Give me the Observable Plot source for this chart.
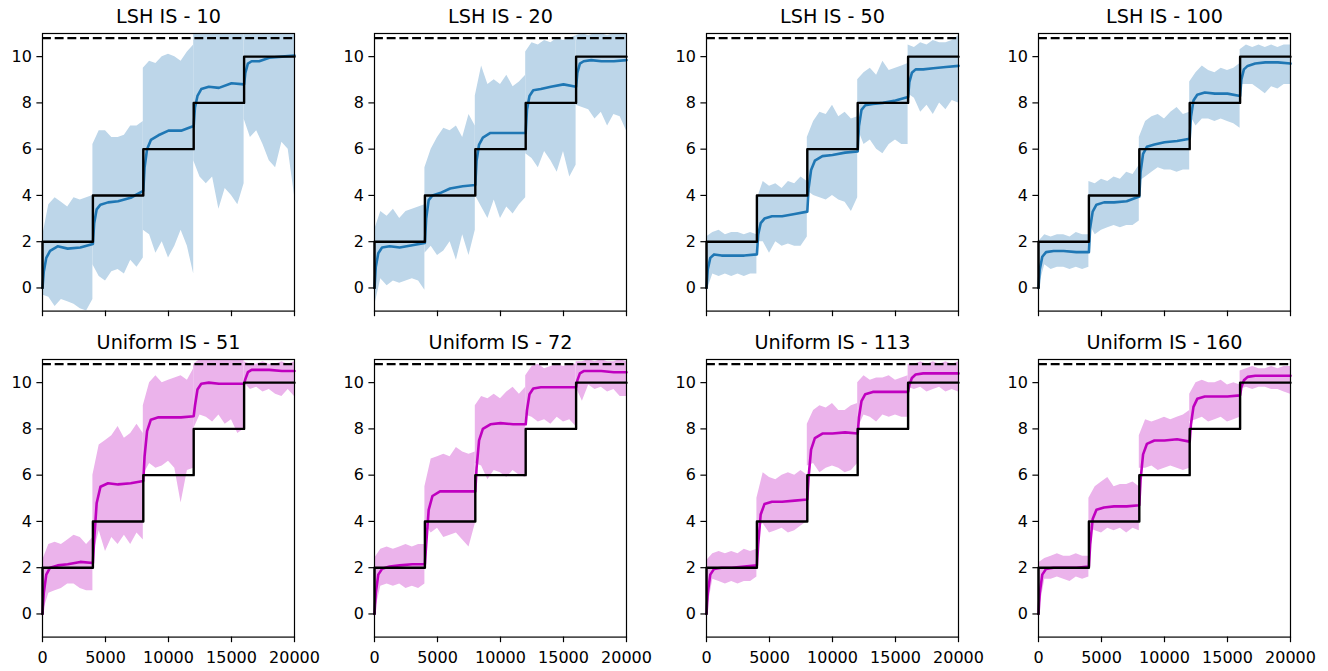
<!DOCTYPE html>
<html>
<head>
<meta charset="utf-8">
<script src="https://cdn.jsdelivr.net/npm/d3@7"></script>
<script src="https://cdn.jsdelivr.net/npm/@observablehq/plot@0.6"></script>
<style>
  html, body { margin: 0; padding: 0; background: #ffffff; }
  #fig { position: relative; width: 1328px; height: 671px; overflow: hidden; font-family: "DejaVu Sans", sans-serif; }
  #fig .panel { position: absolute; }
  #fig svg { overflow: visible; }
</style>
</head>
<body>
<div id="fig"></div>
<script>
// ---------- data ----------
const titles = ["LSH IS - 10", "LSH IS - 20", "LSH IS - 50", "LSH IS - 100",
                "Uniform IS - 51", "Uniform IS - 72", "Uniform IS - 113", "Uniform IS - 160"];
const xTicks = [0, 5000, 10000, 15000, 20000];
const yTicks = [0, 2, 4, 6, 8, 10];
const dashLevel = 10.8;
const stepX = [0, 0, 4000, 8000, 12000, 16000, 20000];
const stepY = [0, 2, 4, 6, 8, 10, 10];
const segStarts = [0, 4000, 8000, 12000, 16000];
const bandOffsets = [0, 500, 1000, 1500, 2000, 2500, 3000, 3500, 4000];
const meanX = [0,
  100, 300, 600, 1200, 2000, 3000, 4000,
  4100, 4300, 4600, 5200, 6000, 7000, 8000,
  8100, 8300, 8600, 9200, 10000, 11000, 12000,
  12100, 12300, 12600, 13200, 14000, 15000, 16000,
  16100, 16300, 16600, 17200, 18000, 19000, 20000];

// LSH IS - 10
const lsh10Lo = [-0.3, -0.4, -0.8, -0.5, -0.6, -0.7, -0.9, -1.0, -0.5,
                 1.0, 0.5, 0.3, 0.7, 0.8, 0.6, 1.2, 0.9, 1.3,
                 2.5, 2.3, 1.5, 2.0, 1.3, 1.8, 2.5, 1.8, 0.6,
                 5.5, 4.8, 4.5, 4.8, 3.4, 4.3, 4.0, 3.6, 4.5,
                 7.3, 6.5, 6.8, 6.2, 5.5, 5.2, 6.3, 6.0, 4.0];
const lsh10Hi = [2.2, 3.6, 3.9, 3.7, 3.5, 3.9, 3.8, 3.9, 4.0,
                 6.2, 6.8, 6.8, 6.5, 6.5, 6.6, 7.0, 7.0, 7.2,
                 9.5, 9.8, 9.7, 10.0, 10.1, 10.0, 9.8, 10.2, 10.5,
                 11.0, 11.0, 11.0, 11.0, 11.0, 11.0, 11.0, 11.0, 11.0,
                 11.0, 11.0, 11.0, 11.0, 11.0, 11.0, 11.0, 11.0, 11.0];
const lsh10Mean = [0,
  0.7, 1.3, 1.6, 1.8, 1.7, 1.75, 1.9,
  2.8, 3.4, 3.6, 3.7, 3.75, 3.9, 4.2,
  5.2, 6.0, 6.4, 6.6, 6.8, 6.8, 7.0,
  7.8, 8.3, 8.6, 8.7, 8.65, 8.85, 8.8,
  9.3, 9.7, 9.8, 9.8, 9.95, 10.0, 10.05];

// LSH IS - 20
const lsh20Lo = [-0.8, 0.4, 0.1, 0.3, 0.2, 0.3, 0.4, 0.3, -0.1,
                 1.5, 1.8, 1.4, 1.6, 2.0, 1.2, 2.3, 1.4, 2.5,
                 4.0, 3.5, 3.0, 3.8, 3.0, 3.5, 3.2, 3.6, 3.9,
                 5.8, 5.6, 5.2, 5.9, 5.5, 5.0, 5.9, 4.8, 5.3,
                 7.9, 7.8, 7.7, 7.3, 7.6, 7.0, 7.5, 7.4, 6.8];
const lsh20Hi = [2.5, 3.3, 3.1, 3.4, 3.0, 3.3, 3.4, 3.5, 3.6,
                 5.2, 6.0, 6.5, 6.9, 6.8, 7.0, 6.5, 7.5, 7.0,
                 8.3, 9.6, 8.8, 9.0, 8.8, 9.2, 8.7, 8.9, 9.2,
                 10.2, 10.6, 10.5, 10.7, 10.6, 10.8, 10.7, 10.8, 10.9,
                 10.9, 11.0, 10.9, 11.0, 11.0, 10.9, 11.0, 11.0, 11.0];
const lsh20Mean = [0,
  0.9, 1.5, 1.75, 1.8, 1.75, 1.85, 1.95,
  3.0, 3.8, 4.0, 4.1, 4.3, 4.4, 4.45,
  5.5, 6.2, 6.5, 6.7, 6.7, 6.7, 6.7,
  7.7, 8.3, 8.55, 8.6, 8.7, 8.8, 8.7,
  9.3, 9.7, 9.8, 9.85, 9.8, 9.8, 9.85];

// LSH IS - 50
const lsh50Lo = [-0.2, 0.6, 0.5, 0.6, 0.5, 0.6, 0.5, 0.6, 0.6,
                 2.0, 2.0, 1.5, 2.0, 1.8, 1.9, 1.8, 1.8, 2.2,
                 4.2, 4.0, 3.9, 3.8, 4.0, 3.8, 3.7, 3.3, 3.9,
                 6.9, 6.2, 6.4, 6.0, 5.8, 6.2, 6.4, 6.2, 6.2,
                 8.4, 8.2, 7.6, 7.9, 7.5, 8.0, 7.7, 8.1, 8.0];
const lsh50Hi = [2.2, 2.4, 2.5, 2.3, 2.4, 2.4, 2.3, 2.4, 2.3,
                 3.8, 4.6, 4.4, 4.5, 4.3, 4.6, 4.5, 4.8, 4.6,
                 6.5, 7.2, 7.6, 7.5, 7.9, 7.4, 7.6, 7.3, 7.4,
                 9.0, 9.3, 9.5, 9.2, 9.8, 9.4, 9.5, 9.6, 9.7,
                 10.5, 10.4, 10.6, 10.5, 10.7, 10.6, 10.6, 10.7, 10.9];
const lsh50Mean = [0,
  0.8, 1.3, 1.45, 1.4, 1.4, 1.4, 1.45,
  2.3, 2.8, 3.0, 3.1, 3.1, 3.2, 3.3,
  4.3, 5.1, 5.5, 5.7, 5.75, 5.85, 5.9,
  7.0, 7.7, 7.9, 7.95, 8.0, 8.1, 8.25,
  8.9, 9.3, 9.45, 9.45, 9.5, 9.55, 9.6];

// LSH IS - 100
const lsh100Lo = [0.0, 1.0, 0.8, 0.9, 0.9, 0.8, 0.9, 0.8, 0.9,
                  2.8, 2.3, 2.5, 2.6, 2.7, 2.6, 2.7, 2.7, 2.9,
                  4.6, 4.8, 5.0, 5.2, 5.1, 5.1, 5.0, 5.1, 5.1,
                  7.5, 7.0, 7.3, 7.3, 7.2, 7.3, 7.2, 7.1, 6.9,
                  8.8, 8.8, 8.8, 8.6, 8.4, 8.7, 8.6, 8.8, 8.8];
const lsh100Hi = [2.0, 2.3, 2.2, 2.3, 2.3, 2.2, 2.4, 2.3, 2.3,
                  4.6, 4.5, 4.7, 4.6, 4.8, 4.7, 5.0, 4.9, 5.3,
                  6.5, 7.2, 7.4, 7.5, 7.3, 7.6, 7.8, 7.5, 7.6,
                  8.9, 9.3, 9.6, 9.4, 9.3, 9.5, 9.4, 9.5, 9.7,
                  10.3, 10.5, 10.4, 10.5, 10.4, 10.5, 10.4, 10.5, 10.5];
const lsh100Mean = [0,
  0.8, 1.35, 1.55, 1.6, 1.6, 1.55, 1.55,
  2.6, 3.3, 3.6, 3.7, 3.7, 3.75, 3.95,
  5.0, 5.8, 6.1, 6.2, 6.3, 6.35, 6.45,
  7.4, 8.1, 8.35, 8.45, 8.4, 8.4, 8.3,
  9.0, 9.45, 9.6, 9.7, 9.75, 9.75, 9.7];

// Uniform IS - 51
const uni51Lo = [0.0, 0.9, 1.0, 1.1, 1.3, 1.3, 1.1, 1.0, 1.0,
                 2.5, 3.6, 2.7, 3.3, 3.0, 3.4, 3.0, 3.5, 3.2,
                 6.0, 6.5, 6.3, 6.4, 6.6, 6.3, 4.8, 6.2, 6.3,
                 8.0, 8.6, 8.5, 8.3, 8.6, 8.2, 8.4, 7.8, 8.0,
                 10.0, 9.7, 9.8, 9.6, 9.7, 9.5, 9.4, 9.7, 9.4];
const uni51Hi = [2.3, 3.0, 3.1, 3.0, 3.2, 3.4, 3.3, 3.0, 3.3,
                 6.0, 7.3, 7.5, 7.7, 8.1, 7.6, 7.8, 8.2, 7.8,
                 9.0, 10.0, 10.3, 10.0, 10.1, 10.2, 10.3, 10.1, 10.6,
                 10.8, 11.0, 11.0, 11.0, 11.0, 11.0, 11.0, 11.0, 11.0,
                 10.9, 10.8, 10.8, 10.9, 10.8, 10.8, 10.9, 10.8, 10.9];
const uni51Mean = [0,
  0.9, 1.7, 2.0, 2.1, 2.15, 2.25, 2.2,
  3.2, 4.8, 5.5, 5.65, 5.6, 5.65, 5.75,
  6.8, 7.9, 8.4, 8.5, 8.5, 8.5, 8.55,
  9.0, 9.7, 9.95, 10.0, 9.95, 9.95, 9.95,
  10.15, 10.45, 10.55, 10.55, 10.55, 10.5, 10.5];

// Uniform IS - 72
const uni72Lo = [0.0, 1.2, 1.3, 1.2, 1.3, 1.1, 1.2, 1.1, 1.3,
                 3.9, 3.5, 3.7, 3.3, 3.4, 3.5, 3.2, 2.9, 3.9,
                 6.5, 6.4, 5.8, 6.2, 6.1, 5.9, 6.2, 6.0, 5.9,
                 8.6, 8.5, 8.3, 8.4, 8.2, 8.5, 8.3, 8.4, 8.1,
                 9.8, 9.2, 9.9, 9.7, 9.8, 9.6, 9.7, 9.4, 9.4];
const uni72Hi = [2.4, 2.8, 2.9, 2.8, 2.9, 3.0, 2.9, 3.0, 3.0,
                 5.5, 6.7, 6.8, 6.9, 6.8, 7.2, 7.0, 6.9, 7.0,
                 9.0, 9.4, 9.3, 9.5, 9.3, 9.6, 9.8, 9.5, 9.8,
                 10.3, 10.7, 10.8, 10.6, 10.7, 10.8, 10.7, 10.8, 10.8,
                 10.9, 10.9, 11.0, 10.9, 11.0, 10.9, 10.9, 11.0, 10.9];
const uni72Mean = [0,
  0.9, 1.7, 1.95, 2.05, 2.1, 2.15, 2.15,
  3.0, 4.5, 5.1, 5.3, 5.3, 5.3, 5.3,
  6.3, 7.5, 8.0, 8.2, 8.25, 8.2, 8.2,
  8.8, 9.5, 9.75, 9.8, 9.8, 9.8, 9.8,
  10.1, 10.4, 10.5, 10.5, 10.5, 10.45, 10.45];

// Uniform IS - 113
const uni113Lo = [0.0, 1.5, 1.4, 1.3, 1.4, 1.3, 1.4, 1.4, 1.6,
                  3.8, 3.9, 3.5, 3.6, 3.7, 3.5, 3.6, 3.8, 4.0,
                  6.4, 6.5, 6.1, 6.3, 6.4, 6.3, 6.1, 6.2, 6.5,
                  8.0, 8.6, 8.5, 8.3, 8.6, 8.5, 8.6, 8.5, 8.5,
                  9.8, 9.7, 9.8, 9.6, 9.7, 9.8, 9.6, 9.7, 9.6];
const uni113Hi = [2.3, 2.6, 2.7, 2.6, 2.7, 2.6, 2.8, 2.7, 2.8,
                  5.0, 6.1, 5.9, 5.8, 6.0, 6.1, 6.0, 6.2, 6.0,
                  8.2, 8.8, 9.0, 8.9, 9.1, 8.8, 8.8, 9.0, 9.1,
                  10.0, 10.3, 10.1, 10.2, 10.2, 10.3, 10.1, 10.2, 10.3,
                  10.8, 10.8, 10.9, 10.8, 10.9, 10.8, 10.9, 10.8, 10.9];
const uni113Mean = [0,
  0.9, 1.7, 1.95, 2.0, 2.0, 2.05, 2.1,
  3.0, 4.3, 4.75, 4.85, 4.85, 4.9, 4.95,
  5.9, 7.1, 7.6, 7.8, 7.8, 7.85, 7.8,
  8.5, 9.2, 9.5, 9.6, 9.6, 9.6, 9.6,
  9.9, 10.2, 10.35, 10.4, 10.4, 10.4, 10.4];

// Uniform IS - 160
const uni160Lo = [0.0, 1.5, 1.5, 1.6, 1.5, 1.4, 1.6, 1.5, 1.6,
                  3.7, 3.6, 3.5, 3.7, 3.6, 3.7, 3.5, 3.7, 3.6,
                  6.3, 6.3, 6.4, 6.2, 6.3, 6.4, 6.3, 6.2, 6.3,
                  8.3, 8.4, 8.5, 8.3, 8.4, 8.5, 8.3, 8.4, 8.5,
                  9.7, 9.8, 9.7, 9.8, 9.8, 9.7, 9.7, 9.6, 9.5];
const uni160Hi = [2.2, 2.4, 2.5, 2.6, 2.5, 2.5, 2.6, 2.5, 2.5,
                  5.0, 5.5, 5.7, 5.9, 5.5, 5.6, 5.6, 5.7, 5.5,
                  7.7, 8.4, 8.3, 8.4, 8.5, 8.4, 8.5, 8.6, 8.8,
                  9.5, 10.0, 10.1, 10.0, 10.0, 10.1, 9.9, 10.0, 9.9,
                  10.5, 10.6, 10.7, 10.6, 10.6, 10.7, 10.6, 10.7, 10.7];
const uni160Mean = [0,
  0.9, 1.7, 1.95, 2.0, 2.0, 2.0, 2.05,
  3.0, 4.1, 4.5, 4.6, 4.65, 4.65, 4.7,
  5.8, 6.9, 7.35, 7.5, 7.5, 7.55, 7.45,
  8.2, 8.95, 9.3, 9.4, 9.4, 9.4, 9.45,
  9.8, 10.1, 10.25, 10.3, 10.3, 10.3, 10.3];

// ---------- drawing ----------
const lshStyle = {band: "#bdd6e9", line: "#1f77b4"};
const uniStyle = {band: "#ebb3eb", line: "#bf00bf"};
const panels = [
  {lo: lsh10Lo, hi: lsh10Hi, mean: lsh10Mean, s: lshStyle},
  {lo: lsh20Lo, hi: lsh20Hi, mean: lsh20Mean, s: lshStyle},
  {lo: lsh50Lo, hi: lsh50Hi, mean: lsh50Mean, s: lshStyle},
  {lo: lsh100Lo, hi: lsh100Hi, mean: lsh100Mean, s: lshStyle},
  {lo: uni51Lo, hi: uni51Hi, mean: uni51Mean, s: uniStyle},
  {lo: uni72Lo, hi: uni72Hi, mean: uni72Mean, s: uniStyle},
  {lo: uni113Lo, hi: uni113Hi, mean: uni113Mean, s: uniStyle},
  {lo: uni160Lo, hi: uni160Hi, mean: uni160Mean, s: uniStyle}
];

const frameLefts = [41.7, 373.7, 705.7, 1037.7];
const frameTops = [33.0, 359.3];
const frameW = 252, frameH = 277.6;
const mL = 42, mR = 2, mT = 34, mB = 36;
const fig = document.getElementById("fig");
const stepRows = stepX.map((x, i) => ({x, y: stepY[i]}));

panels.forEach((p, idx) => {
  const row = Math.floor(idx / 4), col = idx % 4;
  const bottom = row === 1;
  const bandRows = [];
  segStarts.forEach((s0, s) => bandOffsets.forEach((off, j) => {
    bandRows.push({x: s0 + off, lo: p.lo[s * 9 + j], hi: p.hi[s * 9 + j], seg: s});
  }));
  const meanRows = meanX.map((x, i) => ({x, y: p.mean[i]}));

  const chart = Plot.plot({
    width: mL + frameW + mR,
    height: mT + frameH + mB,
    marginLeft: mL, marginRight: mR, marginTop: mT, marginBottom: mB,
    style: {fontFamily: "DejaVu Sans, sans-serif", fontSize: "16px", color: "black", background: "transparent", overflow: "visible"},
    x: {domain: [0, 20000]},
    y: {domain: [-1, 11]},
    marks: [
      Plot.areaY(bandRows, {x: "x", y1: "lo", y2: "hi", z: "seg", fill: p.s.band, clip: true}),
      Plot.ruleY([dashLevel], {stroke: "black", strokeWidth: 2.4, strokeDasharray: "8.9,3.8"}),
      Plot.line(meanRows, {x: "x", y: "y", stroke: p.s.line, strokeWidth: 2.6}),
      Plot.line(stepRows, {x: "x", y: "y", curve: "step-after", stroke: "black", strokeWidth: 2.4}),
      Plot.axisY({ticks: yTicks, tickSize: 5.6, tickPadding: 5, fontSize: 16, strokeWidth: 1.2, label: null, tickFormat: d => String(d)}),
      Plot.axisX({ticks: xTicks, tickSize: 5.6, tickPadding: 8.7, fontSize: 16, strokeWidth: 1.2, label: null,
                  tickFormat: bottom ? (d => String(d)) : (() => "")}),
      Plot.frame({stroke: "black", strokeWidth: 1.2}),
      Plot.text([titles[idx]], {text: d => d, frameAnchor: "top", dy: -10.5, lineAnchor: "bottom", fontSize: 19.2, fill: "black"})
    ]
  });
  const div = document.createElement("div");
  div.className = "panel";
  div.style.left = (frameLefts[col] - mL) + "px";
  div.style.top = (frameTops[row] - mT) + "px";
  div.appendChild(chart);
  fig.appendChild(div);
});
</script>
</body>
</html>
